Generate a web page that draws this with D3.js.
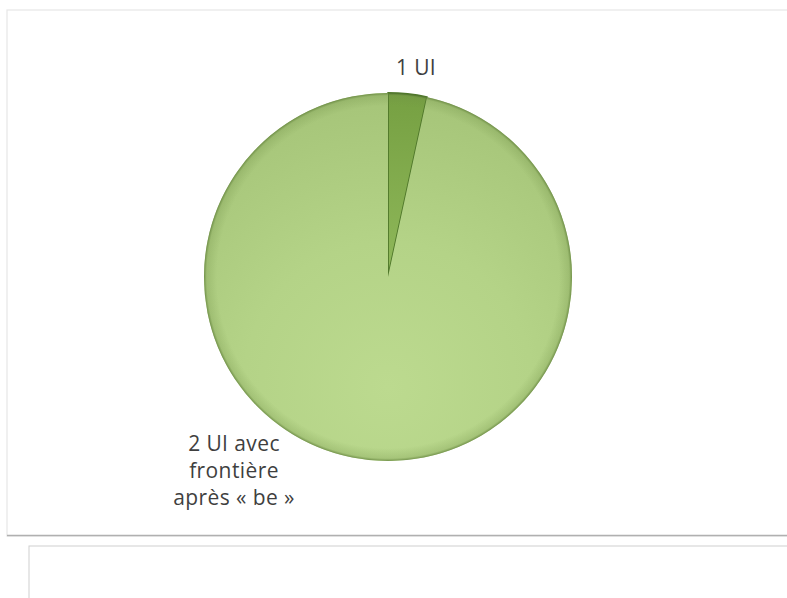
<!DOCTYPE html>
<html><head><meta charset="utf-8">
<script src="https://cdn.jsdelivr.net/npm/d3@7"></script>
<style>
html,body{margin:0;padding:0;background:#fff;}
svg{display:block;}
</style></head>
<body>
<svg id="c" width="787" height="598"></svg>
<script>
const categories = ["1 UI", "2 UI avec frontière après « be »"];
const values = [3.4, 96.6];
const labelLines = [["1 UI"], ["2 UI avec", "frontière", "après « be »"]];

const svg = d3.select("#c");
const defs = svg.append("defs");

// frame
svg.append("rect").attr("x",7).attr("y",10).attr("width",800).attr("height",526)
  .attr("fill","#fff").attr("stroke","#e6e6e6").attr("stroke-width",1.2);
svg.append("line").attr("x1",7).attr("x2",787).attr("y1",535.5).attr("y2",535.5)
  .attr("stroke","#b0b0b0").attr("stroke-width",1.5);
svg.append("rect").attr("x",29).attr("y",546).attr("width",780).attr("height",80)
  .attr("fill","#fff").attr("stroke","#d0d0d0").attr("stroke-width",1);

const cx = 388, cy = 277, r = 184;

const gBig = defs.append("radialGradient").attr("id","gBig")
  .attr("gradientUnits","userSpaceOnUse").attr("cx",0).attr("cy",110).attr("r",r*1.75);
gBig.append("stop").attr("offset","0%").attr("stop-color","#bcda8f");
gBig.append("stop").attr("offset","45%").attr("stop-color","#b4d387");
gBig.append("stop").attr("offset","100%").attr("stop-color","#a3c276");

const gSmall = defs.append("linearGradient").attr("id","gSmall")
  .attr("gradientUnits","userSpaceOnUse").attr("x1",0).attr("y1",-r).attr("x2",0).attr("y2",0);
gSmall.append("stop").attr("offset","0%").attr("stop-color","#76a042");
gSmall.append("stop").attr("offset","100%").attr("stop-color","#8fb85a");

const rim = defs.append("radialGradient").attr("id","rim")
  .attr("gradientUnits","userSpaceOnUse").attr("cx",0).attr("cy",0).attr("r",r);
rim.append("stop").attr("offset","0%").attr("stop-color","#6f8f45").attr("stop-opacity",0);
rim.append("stop").attr("offset","93%").attr("stop-color","#6f8f45").attr("stop-opacity",0);
rim.append("stop").attr("offset","98.5%").attr("stop-color","#6f8f45").attr("stop-opacity",0.25);
rim.append("stop").attr("offset","100%").attr("stop-color","#5a7a35").attr("stop-opacity",0.75);

const pie = d3.pie().sort(null).value(d => d)(values);
const arc = d3.arc().innerRadius(0).outerRadius(r);
const fills = ["url(#gSmall)", "url(#gBig)"];

const g = svg.append("g").attr("transform",`translate(${cx},${cy})`);
g.selectAll("path.slice").data(pie).join("path").attr("class","slice")
  .attr("d", arc).attr("fill",(d,i)=>fills[i])
  .attr("stroke",(d,i)=> i===0 ? "#4f772a" : "none").attr("stroke-width",1.8)
  .attr("stroke-linejoin","round");
g.append("circle").attr("r",r).attr("fill","url(#rim)").attr("pointer-events","none");

// labels
const lab = svg.append("g").attr("font-family","'Open Sans', sans-serif")
  .attr("font-size",21).attr("fill","#3f3f3f").attr("text-anchor","middle")
  .attr("letter-spacing",0.4);
const labelPos = [[416, 75], [234, 451]];
labelLines.forEach((lines,i)=>{
  const t = lab.append("text").attr("x",labelPos[i][0]).attr("y",labelPos[i][1]);
  lines.forEach((l,j)=> t.append("tspan").attr("x",labelPos[i][0]).attr("dy", j===0?0:27).text(l));
});
</script>
</body></html>
